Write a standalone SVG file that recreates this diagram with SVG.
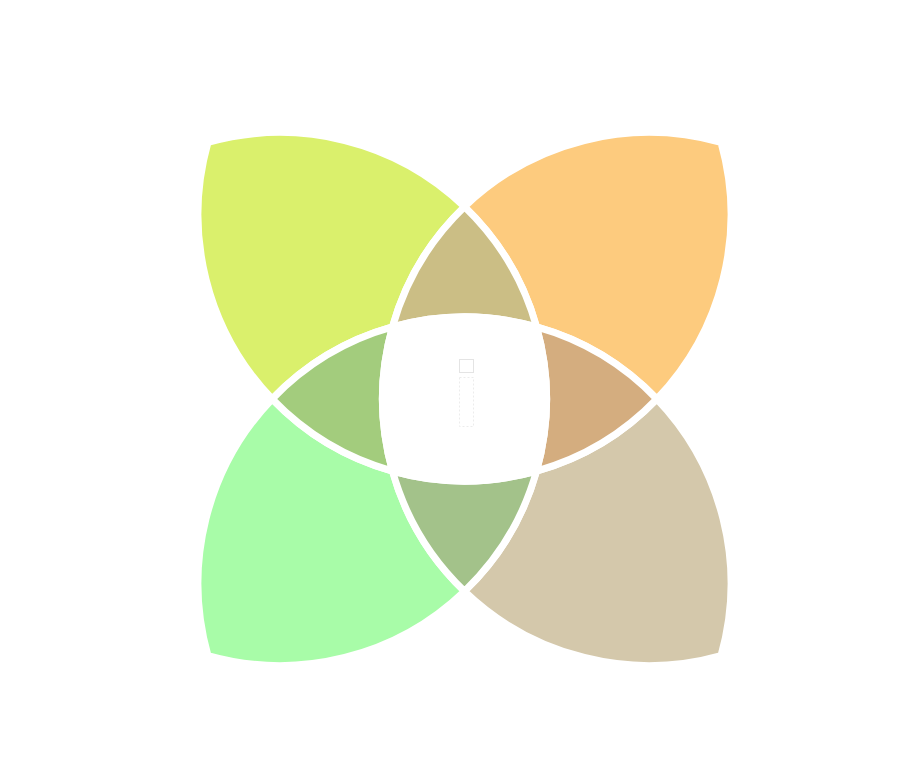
<svg xmlns="http://www.w3.org/2000/svg" width="920" height="759" viewBox="0 0 920 759">
  <style>
    .region { stroke: #ffffff; stroke-width: 7; stroke-linejoin: round; }
    .ph { fill: none; stroke: #e4e4e4; stroke-width: 1; }
    .ph-dot { fill: none; stroke: #ececec; stroke-width: 1; stroke-dasharray: 2 2; }
  </style>
  <defs>
    <path id="petal" d="M207.95,142.45 A266.5,266.5 0 0 1 464.5,206.7 A266.5,266.5 0 0 0 392.45,326.95 A266.5,266.5 0 0 0 272.2,399 A266.5,266.5 0 0 1 207.95,142.45 Z"/>
    <path id="lens" d="M464.5,206.7 A266.5,266.5 0 0 1 536.55,326.95 A266.5,266.5 0 0 0 392.45,326.95 A266.5,266.5 0 0 1 464.5,206.7 Z"/>
  </defs>
  <rect width="920" height="759" fill="#ffffff"/>
  <g id="petal-top-left"><use href="#petal" class="region" fill="#daf06c"/></g>
  <g id="petal-top-right"><use href="#petal" class="region" fill="#fdcb7e" transform="rotate(90 464.5 399)"/></g>
  <g id="petal-bottom-right"><use href="#petal" class="region" fill="#d4c8ab" transform="rotate(180 464.5 399)"/></g>
  <g id="petal-bottom-left"><use href="#petal" class="region" fill="#a8fca8" transform="rotate(270 464.5 399)"/></g>
  <g id="lens-top"><use href="#lens" class="region" fill="#cbbe85"/></g>
  <g id="lens-right"><use href="#lens" class="region" fill="#d4ad7f" transform="rotate(90 464.5 399)"/></g>
  <g id="lens-bottom"><use href="#lens" class="region" fill="#a3c28a" transform="rotate(180 464.5 399)"/></g>
  <g id="lens-left"><use href="#lens" class="region" fill="#a3cc7d" transform="rotate(270 464.5 399)"/></g>
  <g id="center">
    <path class="region" fill="#ffffff" d="M392.45,326.95 A266.5,266.5 0 0 1 536.55,326.95 A266.5,266.5 0 0 1 536.55,471.05 A266.5,266.5 0 0 1 392.45,471.05 A266.5,266.5 0 0 1 392.45,326.95 Z"/>
    <rect class="ph" x="459.5" y="359.5" width="14" height="13"/>
    <rect class="ph-dot" x="459.5" y="377.5" width="14" height="49"/>
  </g>
  <g id="connectors"></g>
</svg>
